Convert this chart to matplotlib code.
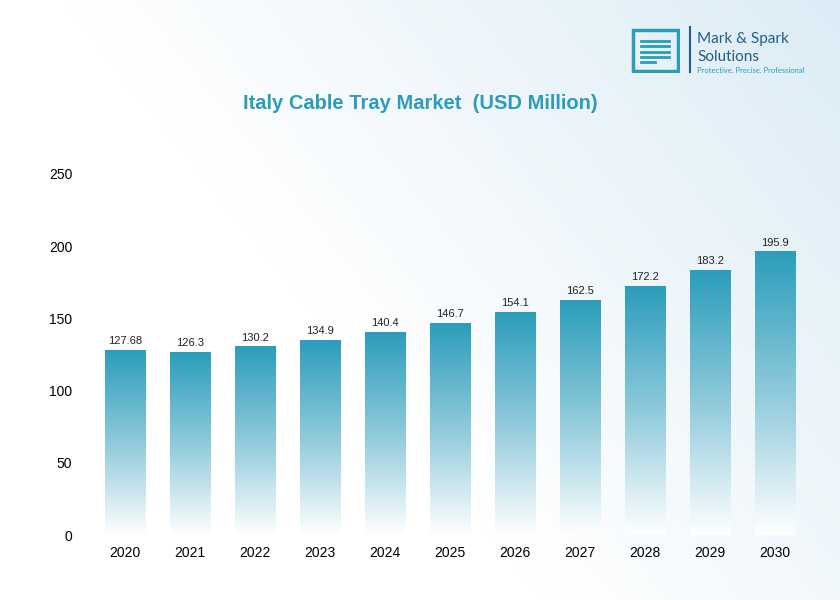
import numpy as np
import matplotlib.pyplot as plt
from matplotlib.colors import LinearSegmentedColormap
from matplotlib.patches import Rectangle

years = ["2020", "2021", "2022", "2023", "2024", "2025", "2026", "2027", "2028", "2029", "2030"]
values = [127.68, 126.3, 130.2, 134.9, 140.4, 146.7, 154.1, 162.5, 172.2, 183.2, 195.9]
labels = ["127.68", "126.3", "130.2", "134.9", "140.4", "146.7", "154.1", "162.5", "172.2", "183.2", "195.9"]

teal = "#2b9dbb"
cmap = LinearSegmentedColormap.from_list("bar", ["#ffffff", "#8fcadb", teal])

fig = plt.figure(figsize=(8.4, 6), dpi=100)

# light background wash
bg = fig.add_axes([0, 0, 1, 1], zorder=-1)
xx = np.linspace(0, 1, 200)
yy = np.linspace(0, 1, 200)
X, Y = np.meshgrid(xx, yy)
wash = np.clip(0.7 * X + 0.4 * Y - 0.45, 0, 1)
bg.imshow(wash, cmap=LinearSegmentedColormap.from_list("bg", ["#ffffff", "#dcecf6"]),
          extent=[0, 1, 0, 1], origin="lower", aspect="auto")
bg.axis("off")

ax = fig.add_axes([0.106, 0.108, 0.859, 0.602])
ax.patch.set_alpha(0)
w = 0.62
grad = np.linspace(0, 1, 256).reshape(-1, 1)
for i, v in enumerate(values):
    ax.imshow(grad, cmap=cmap, extent=[i - w / 2, i + w / 2, 0, v], origin="lower",
              aspect="auto", zorder=2)
    ax.text(i, v + 3, labels[i], ha="center", va="bottom", fontsize=8,
            family="Liberation Sans", color="#222222")

ax.set_xlim(-0.55, len(values) - 0.45)
ax.set_ylim(0, 250)
ax.set_xticks(range(len(years)))
ax.set_xticklabels(years, family="Liberation Sans", fontsize=10)
ax.set_yticks([0, 50, 100, 150, 200, 250])
ax.set_yticklabels(["0", "50", "100", "150", "200", "250"], family="Liberation Sans", fontsize=10)
ax.tick_params(length=0, pad=8)
ax.tick_params(axis="y", pad=12)
for s in ax.spines.values():
    s.set_visible(False)

fig.text(0.5, 0.828, "Italy Cable Tray Market  (USD Million)", ha="center", va="center",
         fontsize=14.5, fontweight="bold", color=teal, family="Liberation Sans")

# logo
la = fig.add_axes([0.75, 0.878, 0.06, 0.075])
la.set_xlim(0, 1)
la.set_ylim(0, 1)
la.axis("off")
la.add_patch(Rectangle((0.05, 0.05), 0.9, 0.9, fill=False, lw=2.5, edgecolor=teal))
for k, yv in enumerate([0.72, 0.6, 0.48, 0.36, 0.24]):
    la.plot([0.22, 0.78 if k < 4 else 0.5], [yv, yv], color=teal, lw=2)
fig.add_artist(plt.Line2D([0.822, 0.822], [0.88, 0.955], color="#1f5f8b", lw=1.5))
fig.text(0.83, 0.935, "Mark & Spark", fontsize=11, color="#1f5f8b", va="center", family="Lato")
fig.text(0.83, 0.905, "Solutions", fontsize=11, color="#1f5f8b", va="center", family="Lato")
fig.text(0.83, 0.883, "Protective. Precise. Professional", fontsize=5.5, color=teal,
         va="center", family="Lato")

fig.savefig("out.png", dpi=100)
